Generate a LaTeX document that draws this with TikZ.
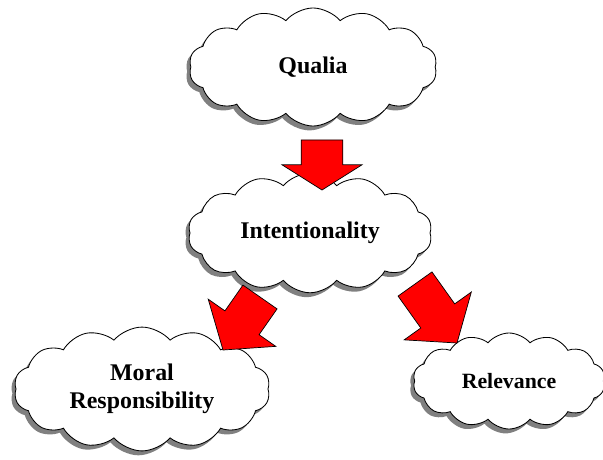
\documentclass[tikz,border=0pt]{standalone}
\usepackage{fontspec}
\setmainfont{Liberation Serif}
\definecolor{ArrRed}{RGB}{255,0,0}
\definecolor{ShadowGray}{RGB}{128,128,128}
\usetikzlibrary{
    shapes.symbols,
    shadows,
    calc,
}

\begin{document}
\begin{tikzpicture}[
    x=0.025cm, y=-0.025cm,
    cloudbox/.style={cloud, cloud puffs=14, cloud puff arc=100, aspect=2.1, draw=black, fill=white, line width=0.6pt, align=center, font=\bfseries\fontsize{17}{20}\selectfont, drop shadow={shadow xshift=-0.09cm, shadow yshift=-0.11cm, fill=ShadowGray, opacity=1}},
    arrow head/.store in=\ahead, arrow head=0.83cm,
    arrow shaft/.store in=\ashaft, arrow shaft=0.52cm,
    arrow wing/.store in=\awing, arrow wing=1.03cm,
    blockarrow/.style={draw=black, fill=ArrRed, line width=0.5pt, line join=miter,
        to path={let \p1=($(\tikztotarget)!\ahead!(\tikztostart)$) in
            ($(\tikztostart)!\ashaft!90:(\tikztotarget)$)
            -- ($(\p1)!\ashaft!90:(\tikztotarget)$)
            -- ($(\p1)!\awing!90:(\tikztotarget)$)
            -- (\tikztotarget)
            -- ($(\p1)!\awing!-90:(\tikztotarget)$)
            -- ($(\p1)!\ashaft!-90:(\tikztotarget)$)
            -- ($(\tikztostart)!\ashaft!-90:(\tikztotarget)$) -- cycle}}
]
    \useasboundingbox (0,0) rectangle (603,459);
    % clouds
    \node[cloudbox, minimum width=6.2cm, minimum height=2.95cm] (qualia) at (313, 67) {Qualia};
    \node[cloudbox, minimum width=6.1cm, minimum height=2.95cm] (intent) at (310, 233) {Intentionality};
    \node[cloudbox, minimum width=6.4cm, minimum height=3.05cm] (moral) at (142, 389) {Moral\\Responsibility};
    \node[cloudbox, minimum width=4.8cm, minimum height=2.4cm, font=\bfseries\fontsize{15.5}{18}\selectfont] (relev) at (509, 381) {Relevance};
    % block arrows
    \draw[blockarrow, arrow head=0.63cm, arrow wing=1.0cm] ([shift={(9,73)}]qualia.center) to ([shift={(12,-43)}]intent.center);
    \draw[blockarrow] ([shift={(-50,64)}]intent.center) to ([shift={(81,-39)}]moral.center);
    \draw[blockarrow] ([shift={(105,51)}]intent.center) to ([shift={(-52,-38)}]relev.center);
\end{tikzpicture}
\end{document}
